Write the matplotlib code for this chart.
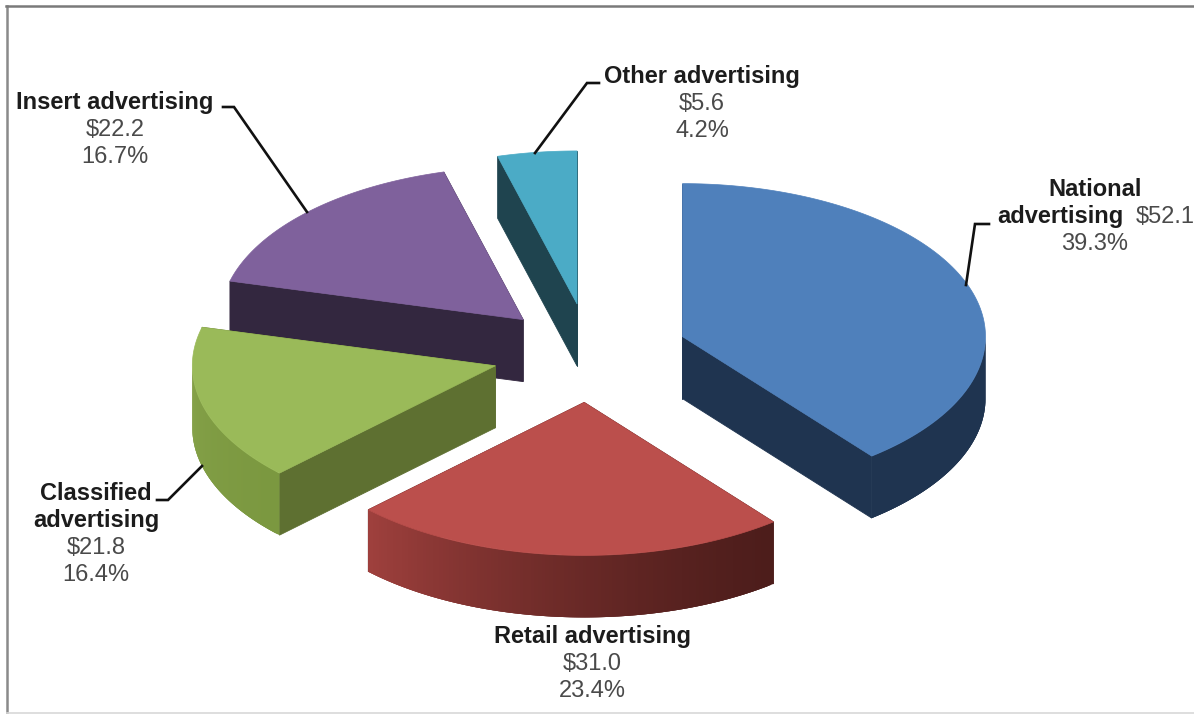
import matplotlib
matplotlib.use('Agg')
import matplotlib.pyplot as plt
from matplotlib.colors import to_rgb
from matplotlib.patches import Polygon
import numpy as np

plt.rcParams['font.family'] = ['Liberation Sans', 'DejaVu Sans']

segments = ['National', 'Retail', 'Classified', 'Insert', 'Other']
values = [52.1, 31.0, 21.8, 22.2, 5.6]
shares = ['39.3%', '23.4%', '16.4%', '16.7%', '4.2%']

top_colors = ['#4f80bb', '#bb4f4c', '#9aba59', '#7f619c', '#4babc6']
face_colors = ['#1f3450', '#4d1d1b', '#5e7031', '#33273f', '#1f444f']
wall_start = ['#1f3450', '#4d1d1b', '#7b9840', '#33273f', '#1f444f']
wall_end = ['#1f3450', '#9f403d', '#8ba74d', '#33273f', '#1f444f']
# back slices get painted first so the nearer ones overlap them
paint_order = [4, 3, 2, 0, 1]

# ellipse of the tilted pie, in pixels
cx, cy = 590, 353
rx, ry = 303, 153
depth = 62
explode = [98, 98, 98, 94, 98]


def rim(angles, x0, y0):
    # angles run clockwise from twelve o'clock
    return x0 + rx * np.sin(angles), y0 - ry * np.cos(angles)


def draw_slice(ax, start, end, i):
    mid = (start + end) / 2
    x0, y0 = rim(mid, cx, cy)
    x0 = cx + (x0 - cx) * explode[i] / rx
    y0 = cy + (y0 - cy) * explode[i] / rx
    angles = np.linspace(start, end, 120)
    xs, ys = rim(angles, x0, y0)

    # the two flat cut faces
    for a in (start, end):
        ex, ey = rim(a, x0, y0)
        ax.add_patch(Polygon([(x0, y0), (ex, ey), (ex, ey + depth), (x0, y0 + depth)],
                             fc=face_colors[i], ec=face_colors[i], lw=0.6))

    # outer wall, front part only. strips overlap the next one so no seams show
    c0, c1 = np.array(to_rgb(wall_start[i])), np.array(to_rgb(wall_end[i]))
    for k in range(len(angles) - 1):
        if np.cos(angles[k]) > 0.001 and np.cos(angles[k + 1]) > 0.001:
            continue
        c = c0 + (c1 - c0) * (k / (len(angles) - 2)) ** 1.4
        j = min(k + 3, len(angles) - 1)
        wall = np.column_stack([np.r_[xs[k:j + 1], xs[k:j + 1][::-1]],
                                np.r_[ys[k:j + 1], ys[k:j + 1][::-1] + depth]])
        ax.add_patch(Polygon(wall, fc=c, lw=0))

    ax.add_patch(Polygon(np.column_stack([np.r_[x0, xs], np.r_[y0, ys]]),
                         fc=top_colors[i], ec=top_colors[i], lw=0.5))


def draw_label(ax, x, y, text, bold=False):
    ax.text(x, y + 1, text, ha='center', va='center', fontsize=17,
            fontweight='bold' if bold else 'normal',
            color='#1c1c1c' if bold else '#4a4a4a')


fig = plt.figure(figsize=(11.94, 7.14), dpi=100)
ax = fig.add_axes([0, 0, 1, 1])
ax.set_xlim(0, 1194)
ax.set_ylim(714, 0)
ax.axis('off')

# chart frame
ax.plot([7, 7], [713, 6], color='#8a8a8a', lw=1.8)
ax.plot([6, 1194], [6, 6], color='#7a7a7a', lw=1.8)
ax.plot([7, 1194], [712.5, 712.5], color='#d8d8d8', lw=1.2)

total = sum(values)
edges = np.r_[0, np.cumsum(values)] / total * 2 * np.pi
for i in paint_order:
    draw_slice(ax, edges[i], edges[i + 1], i)

# leader lines
leaders = [
    ([989, 975, 966], [224, 224, 285]),
    ([157, 168, 202], [500, 500, 466]),
    ([223, 234, 307], [107, 107, 212]),
    ([599, 587, 535], [83, 83, 153]),
]
for lx, ly in leaders:
    ax.plot(lx, ly, color='#111111', lw=1.9, solid_joinstyle='miter')

draw_label(ax, 1095, 189, 'National', True)
draw_label(ax, 1060, 216, 'advertising', True)
draw_label(ax, 1165, 216, f'${values[0]}')
draw_label(ax, 1095, 243, shares[0])

draw_label(ax, 592, 636, 'Retail advertising', True)
draw_label(ax, 592, 663, f'${values[1]}')
draw_label(ax, 592, 690, shares[1])

draw_label(ax, 96, 492, 'Classified', True)
draw_label(ax, 96, 520, 'advertising', True)
draw_label(ax, 96, 547, f'${values[2]}')
draw_label(ax, 96, 574, shares[2])

draw_label(ax, 115, 102, 'Insert advertising', True)
draw_label(ax, 115, 129, f'${values[3]}')
draw_label(ax, 115, 156, shares[3])

draw_label(ax, 702, 76, 'Other advertising', True)
draw_label(ax, 702, 103, f'${values[4]}')
draw_label(ax, 702, 130, shares[4])

fig.savefig('out.png', dpi=100)
